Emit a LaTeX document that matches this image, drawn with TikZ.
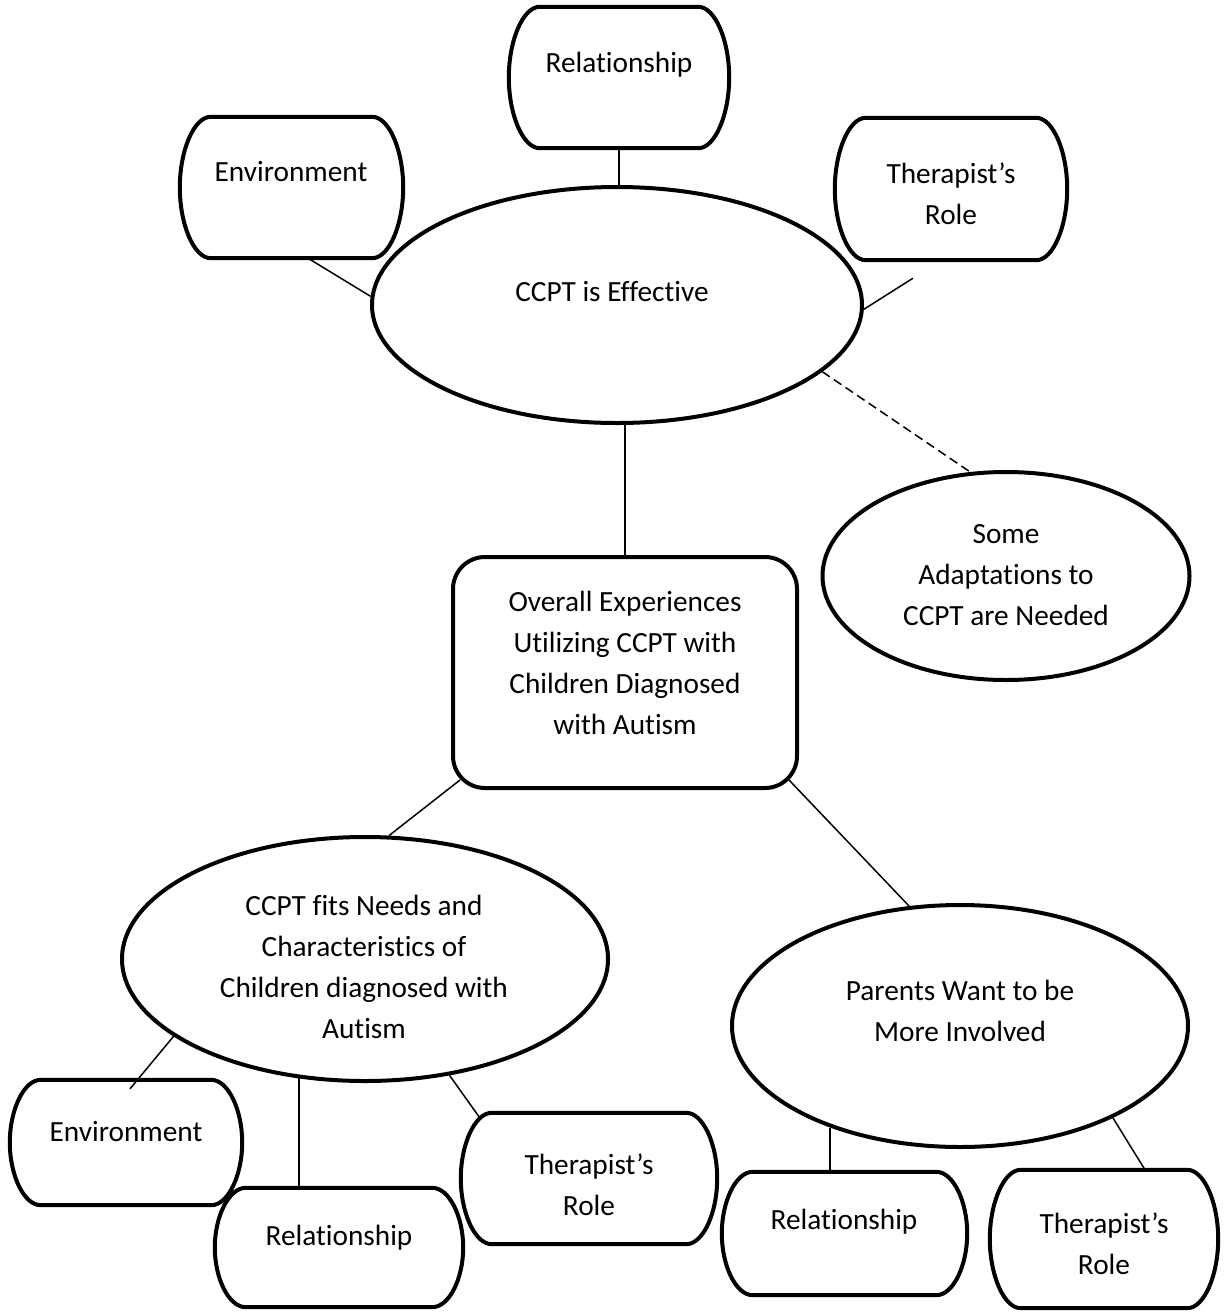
\documentclass[tikz,border=0pt]{standalone}
\usepackage{fontspec}
\setmainfont{Carlito}[Ligatures=NoCommon]
\usetikzlibrary{shapes.geometric,calc}
\tikzset{
  shp/.style={draw, line width=4pt},
  ell/.style={shp, ellipse, inner sep=0pt},
  hold/.style={rectangle, draw=none, inner sep=0pt},
  rbox/.style={shp, rectangle, rounded corners=32pt, inner sep=0pt},
  lbl/.style={font=\fontsize{29.3}{41}\selectfont, align=center, inner sep=0pt},
  conn/.style={line width=1.5pt},
  dconn/.style={conn, dash pattern=on 9pt off 5pt},
}
\newcommand\bulgebox[1]{%
  \draw[shp, line join=round] let \p1=(#1.north west), \p2=(#1.south east), \p3=(#1.east) in
    ({\x1+31pt},\y1) -- ({\x2-31pt},\y1)
    .. controls ({\x2-14pt},\y1) and (\x2,{\y1-0.24*(\y1-\y2)}) .. (\x2,\y3)
    .. controls (\x2,{\y2+0.24*(\y1-\y2)}) and ({\x2-14pt},\y2) .. ({\x2-31pt},\y2)
    -- ({\x1+31pt},\y2)
    .. controls ({\x1+14pt},\y2) and (\x1,{\y2+0.24*(\y1-\y2)}) .. (\x1,\y3)
    .. controls (\x1,{\y1-0.24*(\y1-\y2)}) and ({\x1+14pt},\y1) .. cycle;}
\begin{document}
\begin{tikzpicture}[x=1pt, y=-1pt]
\useasboundingbox (0,0) rectangle (1224,1312);

% ellipses
\node[ell, minimum width=490pt, minimum height=236pt] (eff) at (617,305) {};
\node[ell, minimum width=367pt, minimum height=208pt] (adapt) at (1006,576) {};
\node[ell, minimum width=486pt, minimum height=244pt] (needs) at (365,959) {};
\node[ell, minimum width=456pt, minimum height=242pt] (parents) at (960,1026) {};

% central rounded box
\node[rbox, minimum width=344pt, minimum height=231pt] (ovr) at (625,672.5) {};

% bulging boxes
\node[hold, minimum width=223pt, minimum height=141pt] (env1) at (291.5,187.5) {};
\node[hold, minimum width=220pt, minimum height=141pt] (rel1) at (619,77.5) {};
\node[hold, minimum width=232pt, minimum height=142pt] (ther1) at (951,189) {};
\node[hold, minimum width=232pt, minimum height=125pt] (env2) at (126,1142.5) {};
\node[hold, minimum width=248pt, minimum height=119pt] (rel2) at (339,1247.5) {};
\node[hold, minimum width=256pt, minimum height=131pt] (ther2) at (589,1178.5) {};
\node[hold, minimum width=245pt, minimum height=123pt] (rel3) at (844.5,1233.5) {};
\node[hold, minimum width=228pt, minimum height=138pt] (ther3) at (1104,1239) {};
\bulgebox{env1}
\bulgebox{rel1}
\bulgebox{ther1}
\bulgebox{env2}
\bulgebox{rel2}
\bulgebox{ther2}
\bulgebox{rel3}
\bulgebox{ther3}

% texts
\node[lbl] (efft) at (612,292) {CCPT is Effective};
\node[lbl] (adaptt) at (1006,575) {Some\\Adaptations to\\CCPT are Needed};
\node[lbl] (ovrt) at (625,663) {Overall Experiences\\Utilizing CCPT with\\Children Diagnosed\\with Autism};
\node[lbl] (needst) at (364,967) {CCPT fits Needs and\\Characteristics of\\Children diagnosed with\\Autism};
\node[lbl] (parentst) at (960,1011) {Parents Want to be\\More Involved};
\node[lbl] (env1t) at (291,172) {Environment};
\node[lbl] (rel1t) at (619,65) {Relationship};
\node[lbl] (ther1t) at (951,193.5) {Therapist’s\\Role};
\node[lbl] (env2t) at (126,1132) {Environment};
\node[lbl] (rel2t) at (339,1238) {Relationship};
\node[lbl] (ther2t) at (589,1185) {Therapist’s\\Role};
\node[lbl] (rel3t) at (844,1222) {Relationship};
\node[lbl] (ther3t) at (1104,1244) {Therapist’s\\Role};

% connectors
\draw[conn] ([xshift=16.5pt]env1.south) -- (eff.178);
\draw[conn] (rel1.south) -- (rel1.south |- eff.north);
\draw[conn] (eff.-1) -- ([xshift=-38pt,yshift=-18pt]ther1.south);
\draw[dconn] (eff.-18) -- (adapt.109.4);
\draw[conn] (eff.south -| ovr.north) -- (ovr.north);
\draw[conn] ([xshift=9pt,yshift=10pt]ovr.south west) -- (needs.79);
\draw[conn] ([xshift=-10pt,yshift=10pt]ovr.south east) -- (parents.113.3);
\draw[conn] (needs.202) -- ([xshift=4pt,yshift=-9pt]env2.north);
\draw[conn] (needs.241) -- (needs.241 |- rel2.north);
\draw[conn] (needs.-54.5) -- ([xshift=19pt,yshift=-5pt]ther2.north west);
\draw[conn] (parents.218) -- (parents.218 |- rel3.north);
\draw[conn] (parents.-31.5) -- ([xshift=41pt]ther3.north);
\end{tikzpicture}
\end{document}
